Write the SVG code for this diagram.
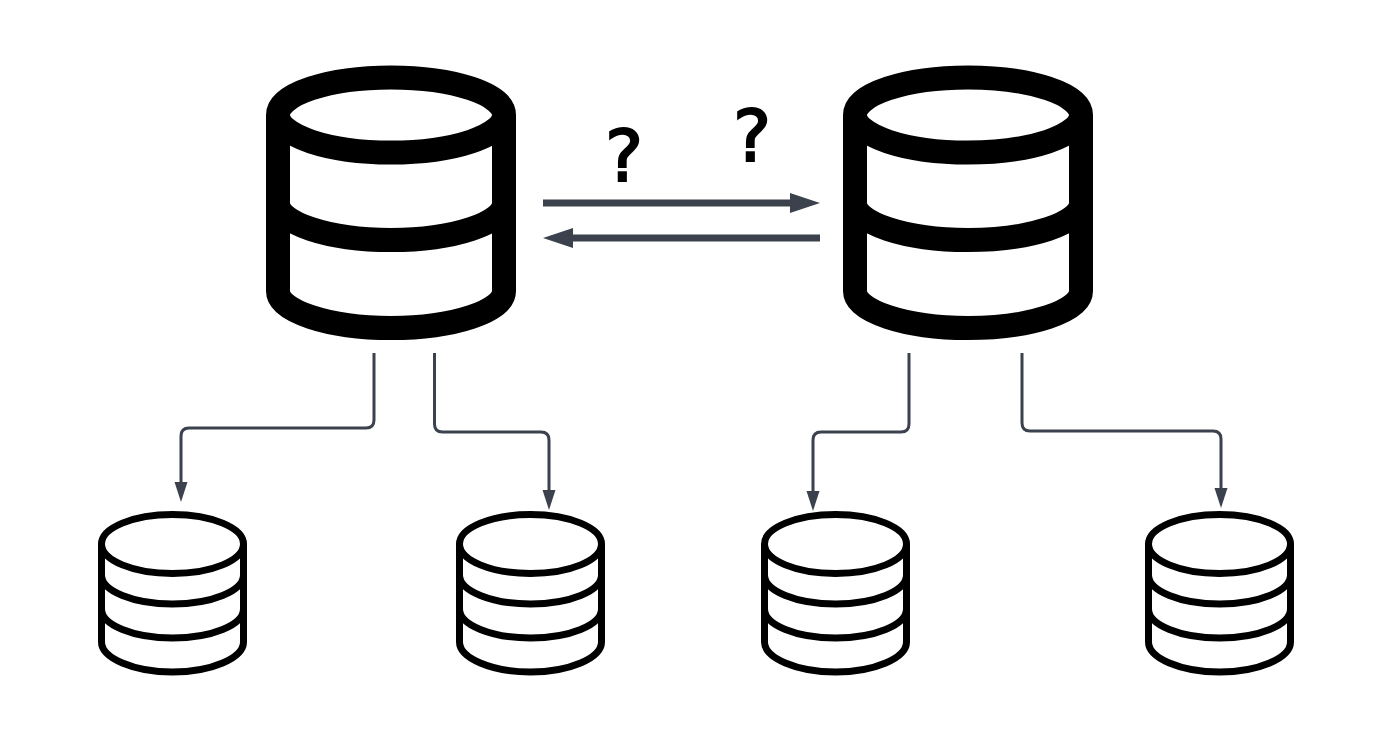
<svg xmlns="http://www.w3.org/2000/svg" width="1393" height="737" viewBox="0 0 1393 737">
<style>
.big{fill:none;stroke:#000;stroke-width:24}
.small{fill:none;stroke:#000;stroke-width:7}
.thick{fill:none;stroke:#3b424d;stroke-width:7}
.thin{fill:none;stroke:#3b424d;stroke-width:3}
.q{font-family:"DejaVu Sans",sans-serif;font-size:72px;fill:#000;stroke:#000;stroke-width:2;text-anchor:middle}
</style>
<defs>
<g id="bigdb">
<ellipse class="big" cx="391" cy="115" rx="113" ry="37.5"/>
<path class="big" d="M278 115V291C278 311 328 328 391 328S504 311 504 291V115"/>
<path class="big" d="M278 203C278 223 328 240 391 240S504 223 504 203"/>
</g>
<g id="smalldb">
<ellipse class="small" cx="172.500" cy="544" rx="71" ry="29.500"/>
<path class="small" d="M101.500 544V642C101.500 658 133.500 672 172.500 672S243.500 658 243.500 642V544"/>
<path class="small" d="M101.500 575C101.500 591 133.500 604 172.500 604S243.500 591 243.500 575"/>
<path class="small" d="M101.500 609C101.500 625 133.500 638 172.500 638S243.500 625 243.500 609"/>
</g>
<marker id="head-thick" markerUnits="userSpaceOnUse" markerWidth="32" markerHeight="22" refX="10" refY="11" orient="auto"><path d="M0 1L30 11L0 21Z" fill="#3b424d"/></marker>
<marker id="head-thin" markerUnits="userSpaceOnUse" markerWidth="22" markerHeight="15" refX="4" refY="7.500" orient="auto"><path d="M0 1L20 7.500L0 14Z" fill="#3b424d"/></marker>
</defs>
<rect width="1393" height="737" fill="#fff"/>
<g id="db-primary-left"><use href="#bigdb"/></g>
<g id="db-primary-right"><use href="#bigdb" x="577"/></g>
<g id="db-replica-1"><use href="#smalldb"/></g>
<g id="db-replica-2"><use href="#smalldb" x="358"/></g>
<g id="db-replica-3"><use href="#smalldb" x="663"/></g>
<g id="db-replica-4"><use href="#smalldb" x="1047"/></g>
<g id="connectors">
<path class="thick" marker-end="url(#head-thick)" d="M543 203H800"/>
<path class="thick" marker-end="url(#head-thick)" d="M820 238H563"/>
<path class="thin" marker-end="url(#head-thin)" d="M374 353V420Q374 428 366 428H189Q181 428 181 436V486"/>
<path class="thin" marker-end="url(#head-thin)" d="M434.500 353V424Q434.500 432 442.500 432H541Q549 432 549 440V494"/>
<path class="thin" marker-end="url(#head-thin)" d="M909 353V424Q909 432 901 432H821Q813 432 813 440V495"/>
<path class="thin" marker-end="url(#head-thin)" d="M1022 353V423Q1022 431 1030 431H1213Q1221 431 1221 439V492"/>
</g>
<text class="q" x="624" y="181">?</text>
<text class="q" x="752" y="161">?</text>
</svg>
